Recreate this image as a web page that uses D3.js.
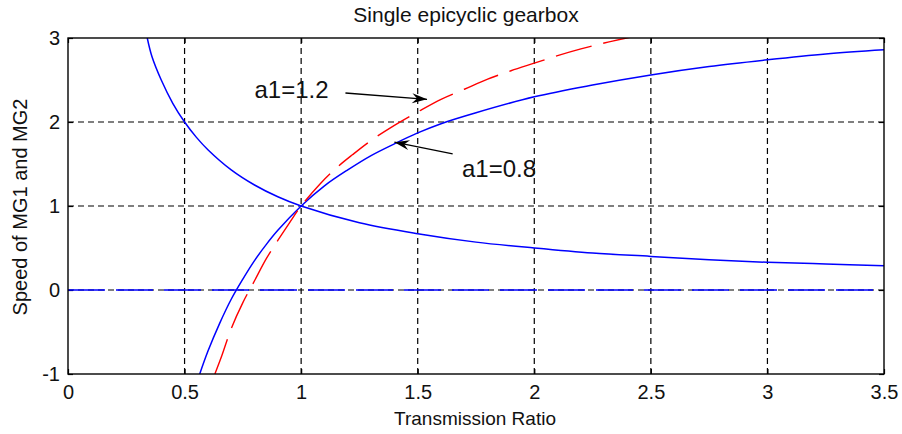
<!DOCTYPE html>
<html lang="en">
<head>
    <meta charset="utf-8">
    <title>Single epicyclic gearbox</title>
    <script src="https://d3js.org/d3.v7.min.js"></script>
    <style type="text/css">
        body { margin: 0; background: #fff; }
        svg text { font-family: "Liberation Sans", Arial, sans-serif; fill: #111; }
    </style>
</head>
<body>
<script type="text/javascript">

    // ---- data ----
    var xTicks = [0, 0.5, 1, 1.5, 2, 2.5, 3, 3.5];
    var xTickLabels = ["0", "0.5", "1", "1.5", "2", "2.5", "3", "3.5"];
    var yTicks = [-1, 0, 1, 2, 3];
    var yTickLabels = ["-1", "0", "1", "2", "3"];

    // MG1 speed, falling curve
    var mg1Curve = [
        [0.34, 3.0], [0.36, 2.78], [0.40, 2.5], [0.45, 2.22], [0.50, 2.0], [0.55, 1.82],
        [0.60, 1.67], [0.70, 1.43], [0.80, 1.25], [0.90, 1.11], [1.0, 1.0], [1.25, 0.80],
        [1.5, 0.67], [1.75, 0.57], [2.0, 0.50], [2.25, 0.44], [2.5, 0.40], [2.75, 0.36],
        [3.0, 0.33], [3.25, 0.31], [3.5, 0.29]
    ];

    // MG2 speed, a1 = 0.8 (blue solid)
    var a08Curve = [
        [0.565, -1.0], [0.60, -0.73], [0.65, -0.40], [0.70, -0.11], [0.75, 0.13],
        [0.80, 0.35], [0.85, 0.54], [0.90, 0.71], [1.0, 1.0], [1.1, 1.24], [1.2, 1.43],
        [1.3, 1.60], [1.4, 1.74], [1.5, 1.87], [1.6, 1.98], [1.75, 2.11], [2.0, 2.30],
        [2.25, 2.44], [2.5, 2.56], [2.75, 2.66], [3.0, 2.74], [3.25, 2.81], [3.5, 2.86]
    ];

    // MG2 speed, a1 = 1.2 (red dashed)
    var a12Curve = [
        [0.63, -1.0], [0.66, -0.78], [0.70, -0.46], [0.75, -0.15], [0.80, 0.11], [0.85, 0.37],
        [0.90, 0.59], [0.95, 0.80], [1.0, 1.0], [1.08, 1.26], [1.15, 1.45], [1.22, 1.61],
        [1.30, 1.78], [1.40, 1.96], [1.50, 2.12], [1.60, 2.27], [1.70, 2.39], [1.80, 2.51],
        [1.90, 2.61], [2.00, 2.70], [2.10, 2.79], [2.20, 2.87], [2.30, 2.94], [2.43, 3.02]
    ];

    // zero line (blue dashed)
    var zeroLine = [[0, 0], [3.5, 0]];

    var annotations = [
        { label: "a1=1.2", tx: 0.80, ty: 2.28, from: [1.19, 2.345], to: [1.54, 2.27] },
        { label: "a1=0.8", tx: 1.69, ty: 1.345, from: [1.65, 1.62], to: [1.40, 1.76] }
    ];

    //Width and height
    var w = 902;
    var h = 434;

    // plot box (top is a reserved window name, so use plot_*)
    var plot_left = 68, plot_right = 884, plot_top = 38, plot_bottom = 374;

    var xScale = d3.scaleLinear().domain([0, 3.5]).range([plot_left, plot_right]);
    var yScale = d3.scaleLinear().domain([-1, 3]).range([plot_bottom, plot_top]);

    var svg = d3.select("body")
        .append("svg")
        .attr("width", w)
        .attr("height", h);

    var defs = svg.append("defs");
    defs.append("clipPath")
        .attr("id", "plot-clip")
        .append("rect")
        .attr("x", plot_left).attr("y", plot_top)
        .attr("width", plot_right - plot_left).attr("height", plot_bottom - plot_top);

    defs.append("marker")
        .attr("id", "arrow")
        .attr("markerUnits", "userSpaceOnUse")
        .attr("viewBox", "-16 -6 17 12")
        .attr("refX", 0).attr("refY", 0)
        .attr("markerWidth", 17).attr("markerHeight", 12)
        .attr("orient", "auto")
        .append("path")
        .attr("d", "M0,0 L-15,-5 L-10,0 L-15,5 Z")
        .attr("fill", "#000");

    // grid lines
    var grid = svg.append("g").attr("stroke", "#000").attr("stroke-width", 1.2)
        .attr("stroke-dasharray", "6,4");
    grid.selectAll("line.gx")
        .data(xTicks.slice(1, -1))
        .enter().append("line")
        .attr("class", "gx")
        .attr("x1", function(d) { return xScale(d); })
        .attr("x2", function(d) { return xScale(d); })
        .attr("y1", plot_top).attr("y2", plot_bottom);
    grid.selectAll("line.gy")
        .data(yTicks.slice(1, -1))
        .enter().append("line")
        .attr("class", "gy")
        .attr("y1", function(d) { return yScale(d); })
        .attr("y2", function(d) { return yScale(d); })
        .attr("x1", plot_left).attr("x2", plot_right);

    // axes
    var xAxis = d3.axisBottom(xScale)
        .tickValues(xTicks)
        .tickFormat(function(d, i) { return xTickLabels[i]; })
        .tickSizeInner(-5).tickSizeOuter(0).tickPadding(11);
    var yAxis = d3.axisLeft(yScale)
        .tickValues(yTicks)
        .tickFormat(function(d, i) { return yTickLabels[i]; })
        .tickSizeInner(-5).tickSizeOuter(0).tickPadding(8);

    svg.append("g").attr("transform", "translate(0," + plot_bottom + ")").call(xAxis);
    svg.append("g").attr("transform", "translate(" + plot_left + ",0)").call(yAxis);
    svg.append("g").attr("transform", "translate(0," + plot_top + ")")
        .call(d3.axisTop(xScale).tickValues(xTicks).tickFormat("").tickSizeInner(-5).tickSizeOuter(0));
    svg.append("g").attr("transform", "translate(" + plot_right + ",0)")
        .call(d3.axisRight(yScale).tickValues(yTicks).tickFormat("").tickSizeInner(-5).tickSizeOuter(0));

    svg.selectAll(".domain").remove();
    svg.selectAll(".tick line").attr("stroke", "#000").attr("stroke-width", 1.2);
    svg.selectAll(".tick text")
        .attr("font-size", 20)
        .attr("font-family", "\"Liberation Sans\", Arial, sans-serif")
        .attr("fill", "#111");

    // curves
    var line = d3.line()
        .x(function(d) { return xScale(d[0]); })
        .y(function(d) { return yScale(d[1]); })
        .curve(d3.curveCatmullRom.alpha(0.5));

    var plot = svg.append("g").attr("clip-path", "url(#plot-clip)");

    plot.append("path").datum(zeroLine)
        .attr("d", line).attr("fill", "none")
        .attr("stroke", "#0000ff").attr("stroke-width", 1.5)
        .attr("stroke-dasharray", "37,11");

    plot.append("path").datum(mg1Curve)
        .attr("d", line).attr("fill", "none")
        .attr("stroke", "#0000ff").attr("stroke-width", 1.5);

    plot.append("path").datum(a08Curve)
        .attr("d", line).attr("fill", "none")
        .attr("stroke", "#0000ff").attr("stroke-width", 1.5);

    plot.append("path").datum(a12Curve)
        .attr("d", line).attr("fill", "none")
        .attr("stroke", "#ff0000").attr("stroke-width", 1.4)
        .attr("stroke-dasharray", "37,12");

    // box
    svg.append("rect")
        .attr("x", plot_left).attr("y", plot_top)
        .attr("width", plot_right - plot_left).attr("height", plot_bottom - plot_top)
        .attr("fill", "none").attr("stroke", "#000").attr("stroke-width", 1.4);

    // annotations
    annotations.forEach(function(a) {
        svg.append("line")
            .attr("x1", xScale(a.from[0])).attr("y1", yScale(a.from[1]))
            .attr("x2", xScale(a.to[0])).attr("y2", yScale(a.to[1]))
            .attr("stroke", "#000").attr("stroke-width", 1.3)
            .attr("marker-end", "url(#arrow)");
        svg.append("text")
            .attr("x", xScale(a.tx)).attr("y", yScale(a.ty))
            .attr("font-size", 24)
            .text(a.label);
    });

    // titles
    svg.append("text")
        .attr("x", 466).attr("y", 22)
        .attr("text-anchor", "middle")
        .attr("font-size", 21)
        .text("Single epicyclic gearbox");

    svg.append("text")
        .attr("x", 475).attr("y", 425)
        .attr("text-anchor", "middle")
        .attr("font-size", 19)
        .text("Transmission Ratio");

    svg.append("text")
        .attr("transform", "translate(27,207) rotate(-90)")
        .attr("text-anchor", "middle")
        .attr("font-size", 20)
        .text("Speed of MG1 and MG2");

</script>
</body>
</html>
